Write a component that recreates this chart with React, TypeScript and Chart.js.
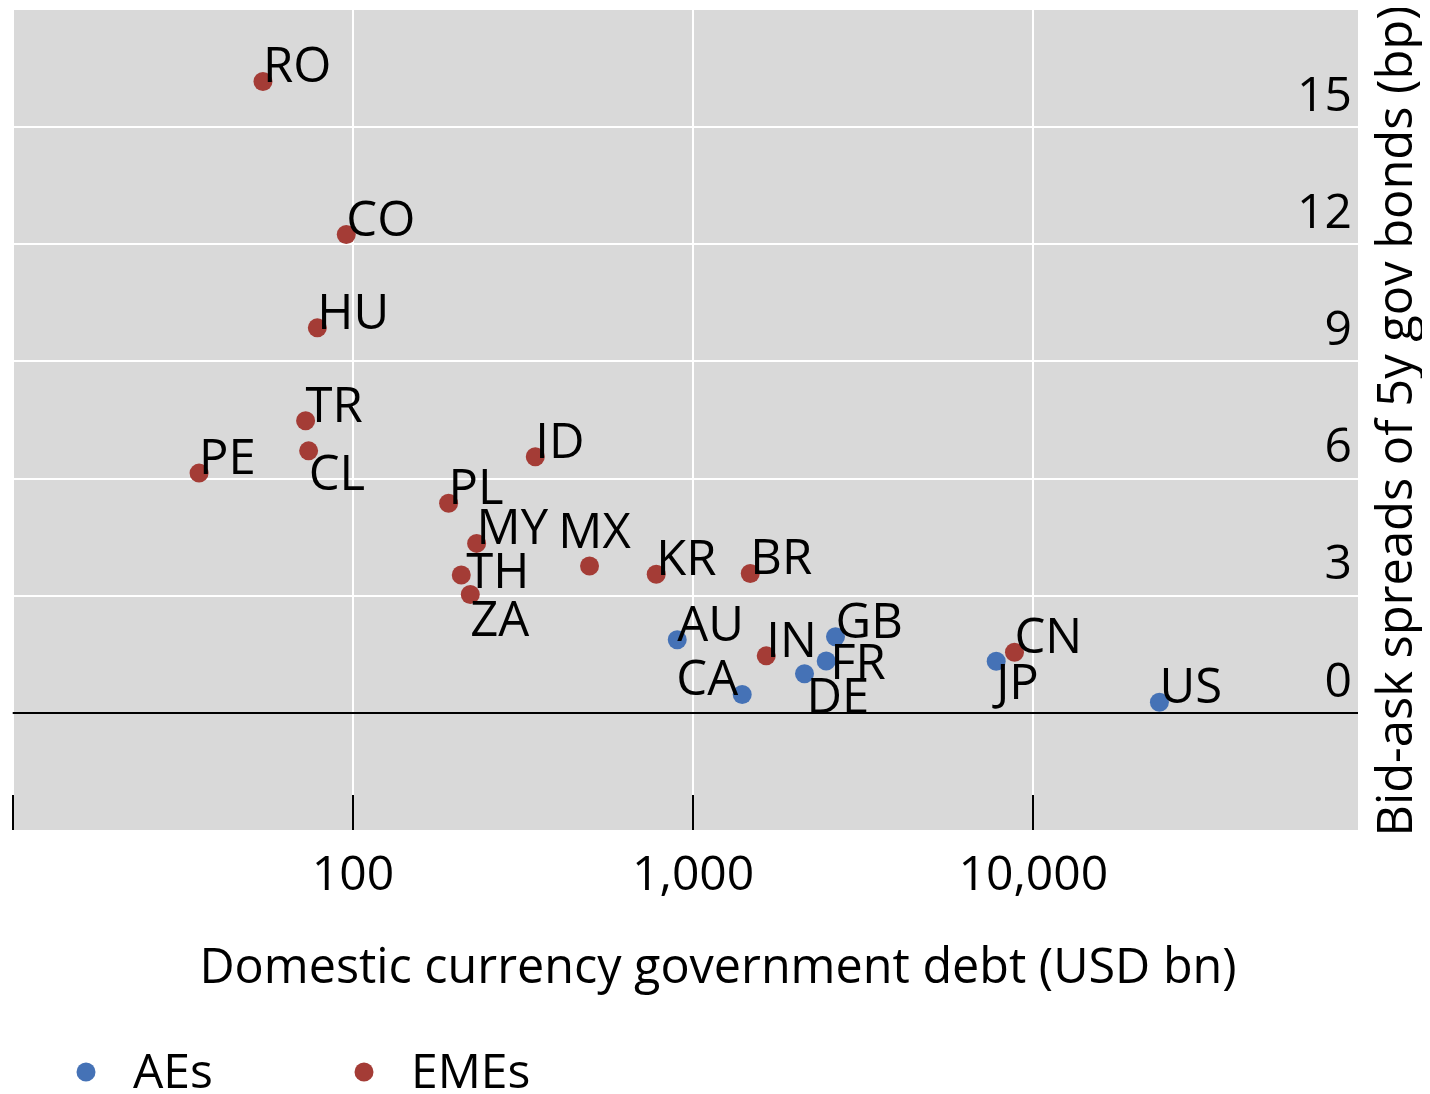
import React, { useEffect, useRef } from 'react';
import { Chart, registerables } from 'chart.js';

Chart.register(...registerables);

// ---- data ----
const aeCodes = ['AU', 'CA', 'DE', 'FR', 'GB', 'JP', 'US'];
const aeDebt = [898, 1394, 2125, 2461, 2621, 7777, 23470];
const aeSpread = [1.87, 0.47, 1.0, 1.33, 1.95, 1.32, 0.27];

const emeCodes = ['RO', 'CO', 'HU', 'TR', 'CL', 'PE', 'ID', 'PL', 'MY', 'TH', 'ZA', 'MX', 'KR', 'BR', 'IN', 'CN'];
const emeDebt = [54.4, 95.6, 78.6, 72.6, 74.1, 35.3, 343.6, 191.1, 231, 208.2, 221.3, 496, 779, 1472, 1640, 8802];
const emeSpread = [16.17, 12.25, 9.86, 7.48, 6.71, 6.14, 6.56, 5.37, 4.34, 3.53, 3.03, 3.76, 3.55, 3.57, 1.46, 1.55];

const xTicks = [10, 100, 1000, 10000];
const yTicks = [0, 3, 6, 9, 12, 15];

const seriesLabels = ['AEs', 'EMEs'];
const xTitle = 'Domestic currency government debt (USD bn)';
const yTitle = 'Bid-ask spreads of 5y gov bonds (bp)';

// ---- styles ----
const FONT = '"Open Sans", "Noto Sans", sans-serif';
const TICK_SIZE = 48;
const LABEL_SIZE = 49;
const XTITLE_SIZE = 48.5;
const YTITLE_SIZE = 48.8;
const BLUE = '#4572b6';
const RED = '#a43c36';
const PLOT_BG = '#d9d9d9';

// label placement relative to point: [dx, dy(baseline), align]
const labelPlacement: Record<string, [number, number, CanvasTextAlign]> = {
  CL: [0, 39, 'left'],
  ZA: [0, 41, 'left'],
  DE: [2, 39, 'left'],
  JP: [0, 38, 'left'],
  TH: [5, 13, 'left'],
  FR: [4, 18, 'left'],
  MX: [5, -18, 'center'],
  CA: [-4, 0, 'right'],
};
const defaultPlacement: [number, number, CanvasTextAlign] = [0, 1, 'left'];

const bgPlugin = {
  id: 'plotBg',
  beforeDraw(chart: any) {
    const { ctx, chartArea: a } = chart;
    ctx.save();
    ctx.fillStyle = PLOT_BG;
    ctx.fillRect(a.left, a.top, a.right - a.left, a.bottom - a.top);
    ctx.restore();
  },
};

const innerTicksPlugin = {
  id: 'innerTicks',
  afterDraw(chart: any) {
    const { ctx, chartArea: a } = chart;
    const xs = chart.scales.x;
    ctx.save();
    ctx.strokeStyle = '#000';
    ctx.lineWidth = 2;
    xs.ticks.forEach((t: any, i: number) => {
      const px = Math.round(xs.getPixelForTick(i));
      ctx.beginPath();
      ctx.moveTo(px, a.bottom - 35);
      ctx.lineTo(px, a.bottom);
      ctx.stroke();
    });
    ctx.restore();
  },
};

const pointLabelsPlugin = {
  id: 'pointLabels',
  afterDatasetsDraw(chart: any) {
    const { ctx } = chart;
    ctx.save();
    ctx.font = `${LABEL_SIZE}px ${FONT}`;
    ctx.fillStyle = '#000';
    ctx.textBaseline = 'alphabetic';
    chart.data.datasets.forEach((ds: any, di: number) => {
      const meta = chart.getDatasetMeta(di);
      meta.data.forEach((el: any, i: number) => {
        const code = ds.codes[i];
        const [dx, dy, align] = labelPlacement[code] || defaultPlacement;
        ctx.textAlign = align;
        ctx.fillText(code, el.x + dx, el.y + dy);
      });
    });
    ctx.restore();
  },
};

const titlesLegendPlugin = {
  id: 'titlesLegend',
  afterDraw(chart: any) {
    const { ctx, chartArea: a, width } = chart;
    ctx.save();
    ctx.fillStyle = '#000';
    ctx.textBaseline = 'alphabetic';
    // x title
    ctx.font = `${XTITLE_SIZE}px ${FONT}`;
    ctx.textAlign = 'center';
    ctx.fillText(xTitle, width / 2 + 3, a.bottom + 153);
    // y title (rotated, reading bottom to top)
    ctx.font = `${YTITLE_SIZE}px ${FONT}`;
    ctx.save();
    ctx.translate(a.right + 54, (a.top + a.bottom) / 2 + 1);
    ctx.rotate(-Math.PI / 2);
    ctx.textAlign = 'center';
    ctx.fillText(yTitle, 0, 0);
    ctx.restore();
    // legend
    ctx.font = `${TICK_SIZE}px ${FONT}`;
    const startX = 78;
    const step = 278;
    const dotY = a.bottom + 242;
    chart.data.datasets.forEach((ds: any, i: number) => {
      const cx = startX + i * step;
      ctx.beginPath();
      ctx.fillStyle = ds.backgroundColor;
      ctx.arc(cx, dotY, 9.5, 0, Math.PI * 2);
      ctx.fill();
      ctx.fillStyle = '#000';
      ctx.textAlign = 'left';
      ctx.fillText(ds.label, cx + 47, dotY + 16);
    });
    ctx.restore();
  },
};

export default function App() {
  const ref = useRef<HTMLCanvasElement>(null);

  useEffect(() => {
    const canvas = ref.current;
    if (!canvas) return;
    const chart = new Chart(canvas, {
      type: 'scatter',
      data: {
        datasets: [
          {
            label: seriesLabels[0],
            data: aeDebt.map((x, i) => ({ x, y: aeSpread[i] })),
            codes: aeCodes,
            backgroundColor: BLUE,
            borderWidth: 0,
            pointRadius: 9.5,
            pointHoverRadius: 9.5,
            order: 1,
          } as any,
          {
            label: seriesLabels[1],
            data: emeDebt.map((x, i) => ({ x, y: emeSpread[i] })),
            codes: emeCodes,
            backgroundColor: RED,
            borderWidth: 0,
            pointRadius: 9.5,
            pointHoverRadius: 9.5,
            order: 0,
          } as any,
        ],
      },
      options: {
        animation: false,
        responsive: false,
        events: [],
        layout: { autoPadding: false, padding: { left: 4.7, top: 2, right: 64, bottom: 170.4 } },
        plugins: {
          legend: { display: false },
          tooltip: { enabled: false },
        },
        scales: {
          x: {
            type: 'logarithmic',
            min: 10,
            max: 90000,
            afterBuildTicks: (scale: any) => {
              scale.ticks = xTicks.map((v) => ({ value: v }));
            },
            afterFit: (scale: any) => {
              scale.paddingLeft = 0;
              scale.paddingRight = 0;
            },
            border: { display: false },
            grid: { color: '#ffffff', lineWidth: 2, drawTicks: false },
            ticks: {
              autoSkip: false,
              maxRotation: 0,
              padding: 18,
              color: '#000',
              font: { family: FONT, size: TICK_SIZE },
              callback: (v: any) => (Number(v) === 10 ? '' : Number(v).toLocaleString('en-US')),
            },
          },
          y: {
            type: 'linear',
            position: 'right',
            min: -3,
            max: 18,
            afterBuildTicks: (scale: any) => {
              scale.ticks = yTicks.map((v) => ({ value: v }));
            },
            afterFit: (scale: any) => {
              scale.paddingTop = 0;
              scale.paddingBottom = 0;
            },
            border: { display: false },
            grid: {
              color: (c: any) => (c.tick && c.tick.value === 0 ? '#000000' : '#ffffff'),
              lineWidth: 2,
              drawTicks: false,
            },
            ticks: {
              mirror: true,
              padding: -6,
              labelOffset: -30,
              color: '#000',
              font: { family: FONT, size: TICK_SIZE },
              callback: (v: any) => String(v),
            },
          },
        },
      },
      plugins: [bgPlugin, pointLabelsPlugin, innerTicksPlugin, titlesLegendPlugin],
    });
    return () => chart.destroy();
  }, []);

  return (
    <div style={{ width: 1414, height: 1086 }}>
      <canvas ref={ref} width={1414} height={1086} />
    </div>
  );
}
